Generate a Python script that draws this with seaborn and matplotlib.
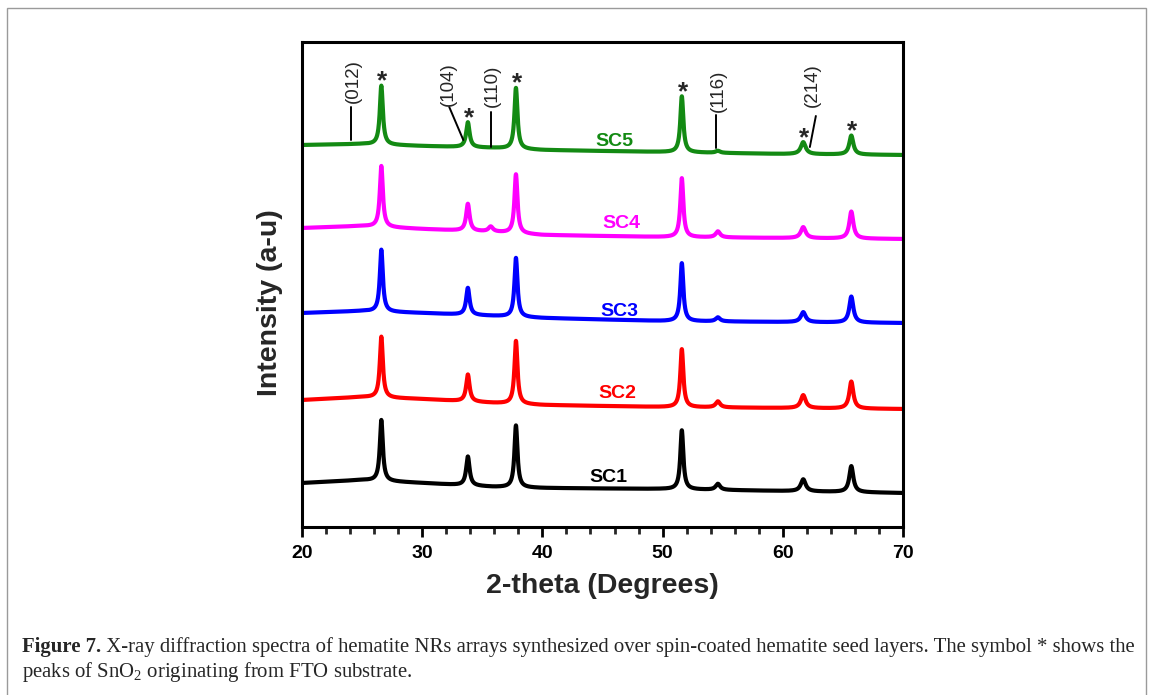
import numpy as np
import pandas as pd
import matplotlib
matplotlib.use("Agg")
import matplotlib.pyplot as plt
import seaborn as sns
from matplotlib.patches import Rectangle

# ---------------- data ----------------
samples = ["SC1", "SC2", "SC3", "SC4", "SC5"]
colors = ["#000000", "#ff0000", "#0000ff", "#ff00ff", "#138a13"]

peak_pos = [26.6, 33.8, 35.7, 37.8, 51.6, 54.6, 61.7, 65.7]
peak_hwhm = [0.15, 0.17, 0.22, 0.15, 0.15, 0.22, 0.24, 0.2]

base_knots = [20, 25, 30, 36, 40, 50, 60, 70]
base_sc1 = [44, 47, 44, 40, 39, 38, 36, 34]
base_sc2 = [127, 130, 128, 124, 122, 120, 119, 118]
base_sc3 = [214, 216, 214, 211, 209, 206, 205, 204]
base_sc4 = [299, 301, 298, 295, 292, 290, 289, 288]
base_sc5 = [382, 383, 381, 379, 377, 375, 373, 372]

peaks_sc1 = [61, 29, 0, 62, 59, 6, 12, 26]
peaks_sc2 = [61, 27, 0, 63, 58, 6, 13, 27]
peaks_sc3 = [62, 27, 0, 59, 58, 4, 10, 26]
peaks_sc4 = [61, 27, 5, 59, 59, 6, 11, 27]
peaks_sc5 = [59, 25, 0, 61, 56, 2, 12, 19]

label_x = [45.5, 46.25, 46.4, 46.6, 46.0]
label_y = [49, 133, 215, 303, 385]

miller = ["(012)", "(104)", "(110)", "(116)", "(214)"]
miller_x = [24.3, 32.2, 35.8, 54.6, 62.5]
miller_y = [446, 443, 441, 436, 442]
lead_x0 = [24.1, 32.25, 35.75, 54.42, 62.75]
lead_y0 = [420, 420, 415, 412, 411]
lead_x1 = [24.1, 33.42, 35.75, 54.42, 62.25]
lead_y1 = [387, 387, 380, 379, 380]

star_peaks = [26.6, 33.8, 37.8, 51.6, 61.7, 65.7]

bases = [base_sc1, base_sc2, base_sc3, base_sc4, base_sc5]
peaks = [peaks_sc1, peaks_sc2, peaks_sc3, peaks_sc4, peaks_sc5]

# ---------------- build spectra ----------------
two_theta = np.linspace(20, 70, 3001)
frames = []
curves = {}
for name, b, p in zip(samples, bases, peaks):
    y = np.interp(two_theta, base_knots, b).astype(float)
    for c, w, h in zip(peak_pos, peak_hwhm, p):
        y += h / (1.0 + ((two_theta - c) / w) ** 2)
    curves[name] = y
    frames.append(pd.DataFrame({"two_theta": two_theta, "intensity": y, "sample": name}))
df = pd.concat(frames, ignore_index=True)

# ---------------- figure ----------------
sns.set_theme(style="ticks")
plt.rcParams["font.family"] = ["Liberation Sans", "DejaVu Sans"]
plt.rcParams["mathtext.fontset"] = "custom"
plt.rcParams["mathtext.rm"] = "Liberation Serif"
plt.rcParams["mathtext.it"] = "Liberation Serif:italic"

W, H = 1153, 695
fig = plt.figure(figsize=(W / 100, H / 100), dpi=100)
fig.patch.set_facecolor("white")

# outer frame
fig.add_artist(Rectangle((7 / W, -0.05), (1146 - 7) / W, (H - 8) / H + 0.05,
                         transform=fig.transFigure, fill=False,
                         edgecolor="#9a9a9a", linewidth=1.0))

ax = fig.add_axes([302 / W, (H - 527) / H, 601 / W, 485 / H])
sns.lineplot(data=df, x="two_theta", y="intensity", hue="sample",
             palette=dict(zip(samples, colors)), estimator=None, sort=False,
             linewidth=3.0, legend=False, ax=ax)

ax.set_xlim(20, 70)
ax.set_ylim(0, 485)
ax.set_yticks([])
ax.set_xticks([20, 30, 40, 50, 60, 70])
ax.set_xticks(np.arange(20, 71, 2), minor=True)
ax.tick_params(axis="x", which="major", direction="out", length=7, width=2,
               pad=6, labelsize=14, colors="black")
ax.tick_params(axis="x", which="minor", direction="out", length=5, width=2)
for lab in ax.get_xticklabels():
    lab.set_fontweight("bold")
for s in ax.spines.values():
    s.set_visible(True)
    s.set_linewidth(2.2)
    s.set_color("black")

ax.set_xlabel("2-theta (Degrees)", fontsize=20.5, fontweight="bold")
ax.set_ylabel("Intensity (a-u)", fontsize=20.5, fontweight="bold")
ax.xaxis.set_label_coords(0.5, (527 - 586) / 485)
ax.yaxis.set_label_coords((270 - 302) / 601, (527 - 303) / 485)
ax.xaxis.label.set_va("center")
ax.yaxis.label.set_va("center")

# sample labels
for name, col, lx, ly in zip(samples, colors, label_x, label_y):
    ax.text(lx, ly, name, color=col, fontsize=14, fontweight="bold",
            ha="center", va="center")

# Miller indices with leader lines
for t, mx, my, x0, y0, x1, y1 in zip(miller, miller_x, miller_y,
                                     lead_x0, lead_y0, lead_x1, lead_y1):
    ax.text(mx, my, t, rotation=90, fontsize=13.5, ha="center", va="center")
    ax.plot([x0, x1], [y0, y1], color="black", linewidth=1.4)

# SnO2 stars on top of SC5 peaks
top = curves["SC5"]
for sp in star_peaks:
    m = (two_theta > sp - 0.4) & (two_theta < sp + 0.4)
    ax.annotate("*", xy=(sp, top[m].max()), xytext=(0.8, 3),
                textcoords="offset points", ha="center", va="center",
                fontsize=19, fontweight="bold")

# ---------------- caption ----------------
renderer = fig.canvas.get_renderer()
cap_bold = "Figure 7."
cap_rest = (" X-ray diffraction spectra of hematite NRs arrays synthesized over "
            "spin-coated hematite seed layers. The symbol * shows the")
cap_line2 = "peaks of SnO$_2$ originating from FTO substrate."
serif = ["Liberation Serif", "DejaVu Serif"]

fs = 12.0
tb = fig.text(22 / W, 1 - 652 / H, cap_bold, fontsize=fs, fontweight="bold",
              family=serif, ha="left", va="baseline")
tr = fig.text(0, 1 - 652 / H, cap_rest, fontsize=fs, family=serif,
              ha="left", va="baseline")
wb = tb.get_window_extent(renderer).width
wr = tr.get_window_extent(renderer).width
fs = fs * (1137 - 22) / (wb + wr)
tb.set_fontsize(fs)
tr.set_fontsize(fs)
wb = tb.get_window_extent(renderer).width
tr.set_x((22 + wb) / W)
fig.text(22 / W, 1 - 677 / H, cap_line2, fontsize=fs, family=serif,
         ha="left", va="baseline")

fig.savefig("out.png", dpi=100, facecolor="white")
